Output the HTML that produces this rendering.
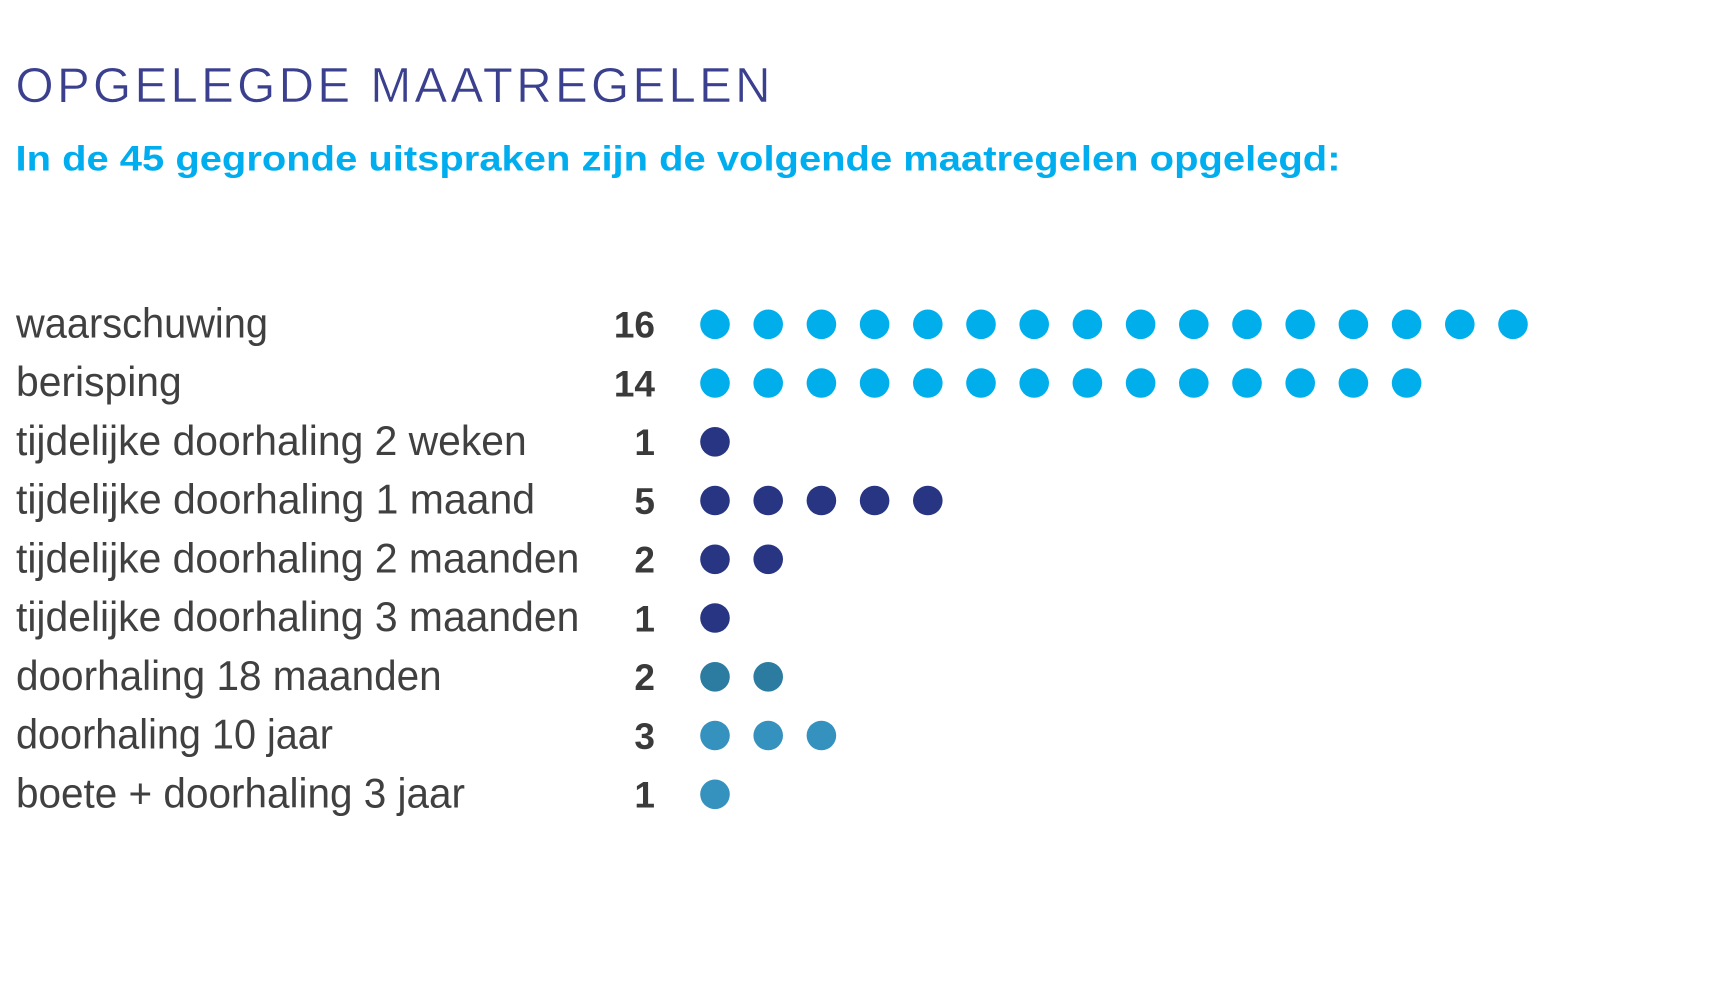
<!DOCTYPE html>
<html>
<head>
<meta charset="utf-8">
<style>
  html, body { margin:0; padding:0; background:#ffffff; }
  body { width:1728px; height:991px; overflow:hidden; }
  svg { display:block; }
  .lbl { font-family:"Liberation Sans", sans-serif; font-size:42px; fill:#404040; }
  .num { font-family:"Liberation Sans", sans-serif; font-size:37px; font-weight:bold; fill:#3a3a3a; }
</style>
</head>
<body>
<svg width="1728" height="991" viewBox="0 0 1728 991" xmlns="http://www.w3.org/2000/svg">
  <rect width="1728" height="991" fill="#ffffff"/>
  <text x="15.5" y="102" font-family="Liberation Sans, sans-serif" font-size="49" fill="#3a3f8e" stroke="#ffffff" stroke-width="0.6" textLength="755" lengthAdjust="spacing">OPGELEGDE MAATREGELEN</text>
  <text x="15.5" y="170.5" font-family="Liberation Sans, sans-serif" font-size="35.5" font-weight="bold" fill="#00aeef" textLength="1325" lengthAdjust="spacingAndGlyphs">In de 45 gegronde uitspraken zijn de volgende maatregelen opgelegd:</text>

  <text class="lbl" x="16" y="337.3" textLength="252" lengthAdjust="spacingAndGlyphs">waarschuwing</text>
  <text class="lbl" x="16" y="396.0" textLength="165.7" lengthAdjust="spacingAndGlyphs">berisping</text>
  <text class="lbl" x="16" y="454.8" textLength="510.7" lengthAdjust="spacingAndGlyphs">tijdelijke doorhaling 2 weken</text>
  <text class="lbl" x="16" y="513.5" textLength="519" lengthAdjust="spacingAndGlyphs">tijdelijke doorhaling 1 maand</text>
  <text class="lbl" x="16" y="572.3" textLength="563.3" lengthAdjust="spacingAndGlyphs">tijdelijke doorhaling 2 maanden</text>
  <text class="lbl" x="16" y="631.0" textLength="563.3" lengthAdjust="spacingAndGlyphs">tijdelijke doorhaling 3 maanden</text>
  <text class="lbl" x="16" y="689.8" textLength="425.7" lengthAdjust="spacingAndGlyphs">doorhaling 18 maanden</text>
  <text class="lbl" x="16" y="748.5" textLength="317" lengthAdjust="spacingAndGlyphs">doorhaling 10 jaar</text>
  <text class="lbl" x="16" y="807.3" textLength="449" lengthAdjust="spacingAndGlyphs">boete + doorhaling 3 jaar</text>

  <text class="num" x="655" y="337.5" text-anchor="end">16</text>
  <text class="num" x="655" y="396.3" text-anchor="end">14</text>
  <text class="num" x="655" y="455.0" text-anchor="end">1</text>
  <text class="num" x="655" y="513.8" text-anchor="end">5</text>
  <text class="num" x="655" y="572.5" text-anchor="end">2</text>
  <text class="num" x="655" y="631.3" text-anchor="end">1</text>
  <text class="num" x="655" y="690.0" text-anchor="end">2</text>
  <text class="num" x="655" y="748.8" text-anchor="end">3</text>
  <text class="num" x="655" y="807.5" text-anchor="end">1</text>

  <g fill="#00aeeb">
    <circle cx="715" cy="324.3" r="14.8"/><circle cx="768.2" cy="324.3" r="14.8"/><circle cx="821.4" cy="324.3" r="14.8"/><circle cx="874.6" cy="324.3" r="14.8"/>
    <circle cx="927.8" cy="324.3" r="14.8"/><circle cx="981" cy="324.3" r="14.8"/><circle cx="1034.2" cy="324.3" r="14.8"/><circle cx="1087.4" cy="324.3" r="14.8"/>
    <circle cx="1140.6" cy="324.3" r="14.8"/><circle cx="1193.8" cy="324.3" r="14.8"/><circle cx="1247" cy="324.3" r="14.8"/><circle cx="1300.2" cy="324.3" r="14.8"/>
    <circle cx="1353.4" cy="324.3" r="14.8"/><circle cx="1406.6" cy="324.3" r="14.8"/><circle cx="1459.8" cy="324.3" r="14.8"/><circle cx="1513" cy="324.3" r="14.8"/>
  </g>
  <g fill="#00aeeb">
    <circle cx="715" cy="383.0" r="14.8"/><circle cx="768.2" cy="383.0" r="14.8"/><circle cx="821.4" cy="383.0" r="14.8"/><circle cx="874.6" cy="383.0" r="14.8"/>
    <circle cx="927.8" cy="383.0" r="14.8"/><circle cx="981" cy="383.0" r="14.8"/><circle cx="1034.2" cy="383.0" r="14.8"/><circle cx="1087.4" cy="383.0" r="14.8"/>
    <circle cx="1140.6" cy="383.0" r="14.8"/><circle cx="1193.8" cy="383.0" r="14.8"/><circle cx="1247" cy="383.0" r="14.8"/><circle cx="1300.2" cy="383.0" r="14.8"/>
    <circle cx="1353.4" cy="383.0" r="14.8"/><circle cx="1406.6" cy="383.0" r="14.8"/>
  </g>
  <g fill="#283583">
    <circle cx="715" cy="441.8" r="14.8"/>
    <circle cx="715" cy="500.5" r="14.8"/><circle cx="768.2" cy="500.5" r="14.8"/><circle cx="821.4" cy="500.5" r="14.8"/><circle cx="874.6" cy="500.5" r="14.8"/><circle cx="927.8" cy="500.5" r="14.8"/>
    <circle cx="715" cy="559.3" r="14.8"/><circle cx="768.2" cy="559.3" r="14.8"/>
    <circle cx="715" cy="618.0" r="14.8"/>
  </g>
  <g fill="#2b7ca0">
    <circle cx="715" cy="676.8" r="14.8"/><circle cx="768.2" cy="676.8" r="14.8"/>
  </g>
  <g fill="#3592be">
    <circle cx="715" cy="735.5" r="14.8"/><circle cx="768.2" cy="735.5" r="14.8"/><circle cx="821.4" cy="735.5" r="14.8"/>
    <circle cx="715" cy="794.3" r="14.8"/>
  </g>
</svg>
</body>
</html>
